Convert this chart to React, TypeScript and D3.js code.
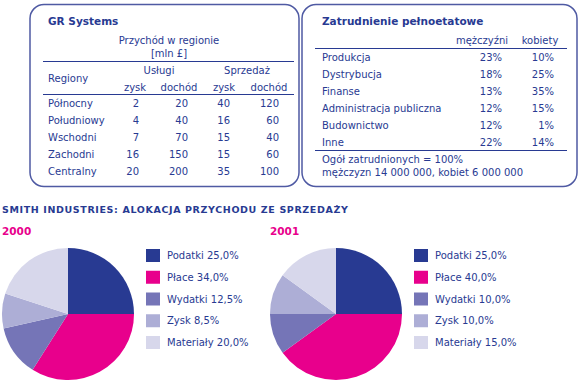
import React, { useEffect, useRef } from "react";
import * as d3 from "d3";

// left table: GR Systems
const regions = ["Północny", "Południowy", "Wschodni", "Zachodni", "Centralny"];
const uslugiZysk = [2, 4, 7, 16, 20];
const uslugiDochod = [20, 40, 70, 150, 200];
const sprzedazZysk = [40, 16, 15, 15, 35];
const sprzedazDochod = [120, 60, 40, 60, 100];

// right table: employment
const sectors = ["Produkcja", "Dystrybucja", "Finanse", "Administracja publiczna", "Budownictwo", "Inne"];
const men = [23, 18, 13, 12, 12, 22];
const women = [10, 25, 35, 15, 1, 14];

// pies
const allocLabels = ["Podatki", "Płace", "Wydatki", "Zysk", "Materiały"];
const alloc2000 = [25, 34, 12.5, 8.5, 20];
const alloc2001 = [25, 40, 10, 10, 15];
const years = ["2000", "2001"];

const BLUE = "#283a92";
const PINK = "#e8008c";
const FONT = "DejaVu Sans, Verdana, sans-serif";

export default function App() {
  const ref = useRef<SVGSVGElement>(null);

  useEffect(() => {
    const svg = d3.select(ref.current);
    svg.selectAll("*").remove();

    const txt = (g: any, x: number, y: number, s: string, anchor = "start") =>
      g.append("text").attr("x", x).attr("y", y).attr("text-anchor", anchor).text(s);

    // boxes
    svg.append("rect").attr("x", 30).attr("y", 4.5).attr("width", 269).attr("height", 182)
      .attr("rx", 14).attr("fill", "none").attr("stroke", "#4f5aa3").attr("stroke-width", 1.5);
    svg.append("rect").attr("x", 302).attr("y", 4.5).attr("width", 275).attr("height", 182)
      .attr("rx", 14).attr("fill", "none").attr("stroke", "#4f5aa3").attr("stroke-width", 1.5);

    const g1 = svg.append("g").attr("font-family", FONT).attr("font-size", 10).attr("fill", BLUE);
    txt(g1, 48, 25, "GR Systems").attr("font-weight", "bold").attr("font-size", 10.5);
    txt(g1, 169, 44, "Przychód w regionie", "middle");
    txt(g1, 169, 57, "[mln £]", "middle");
    g1.append("line").attr("x1", 43).attr("x2", 294).attr("y1", 61.5).attr("y2", 61.5).attr("stroke", BLUE);
    txt(g1, 48, 82, "Regiony");
    txt(g1, 159, 74, "Usługi", "middle");
    txt(g1, 247, 74, "Sprzedaż", "middle");
    txt(g1, 135, 91, "zysk", "middle");
    txt(g1, 179, 91, "dochód", "middle");
    txt(g1, 224, 91, "zysk", "middle");
    txt(g1, 269, 91, "dochód", "middle");
    g1.append("line").attr("x1", 43).attr("x2", 294).attr("y1", 94.5).attr("y2", 94.5).attr("stroke", BLUE);

    const yRow = d3.scaleLinear().domain([0, 4]).range([107, 175]);
    const cols = [
      { vals: uslugiZysk, x: 139 },
      { vals: uslugiDochod, x: 188 },
      { vals: sprzedazZysk, x: 230 },
      { vals: sprzedazDochod, x: 279 },
    ];
    regions.forEach((r, i) => {
      txt(g1, 48, yRow(i), r);
      cols.forEach((c) => txt(g1, c.x, yRow(i), String(c.vals[i]), "end"));
    });

    // right table
    const g2 = svg.append("g").attr("font-family", FONT).attr("font-size", 10).attr("fill", BLUE);
    txt(g2, 322, 25, "Zatrudnienie pełnoetatowe").attr("font-weight", "bold").attr("font-size", 10.5);
    txt(g2, 482, 44, "mężczyźni", "middle");
    txt(g2, 540, 44, "kobiety", "middle");
    g2.append("line").attr("x1", 315).attr("x2", 567).attr("y1", 48.5).attr("y2", 48.5).attr("stroke", BLUE);
    const yRow2 = d3.scaleLinear().domain([0, 5]).range([61, 146]);
    sectors.forEach((s, i) => {
      txt(g2, 322, yRow2(i), s);
      txt(g2, 502, yRow2(i), men[i] + "%", "end");
      txt(g2, 554, yRow2(i), women[i] + "%", "end");
    });
    g2.append("line").attr("x1", 315).attr("x2", 567).attr("y1", 150.5).attr("y2", 150.5).attr("stroke", BLUE);
    txt(g2, 322, 163, "Ogół zatrudnionych = 100%");
    txt(g2, 322, 176, "mężczyzn 14 000 000, kobiet 6 000 000");

    // bottom title
    svg.append("text").attr("x", 2).attr("y", 213).attr("font-family", FONT).attr("font-size", 9.5)
      .attr("font-weight", "bold").attr("letter-spacing", 0.62).attr("fill", BLUE)
      .text("SMITH INDUSTRIES: ALOKACJA PRZYCHODU ZE SPRZEDAŻY");

    const color = d3.scaleOrdinal<string, string>().domain(allocLabels)
      .range([BLUE, PINK, "#7575b7", "#adaed6", "#d7d7eb"]);
    const pie = d3.pie<number>().sort(null).value((d) => d);
    const arc = d3.arc<d3.PieArcDatum<number>>().innerRadius(0).outerRadius(66);
    const fmt = (v: number) => v.toFixed(1).replace(".", ",") + "%";
    const legY = d3.scaleLinear().domain([0, 4]).range([249, 336]);

    [alloc2000, alloc2001].forEach((vals, k) => {
      const x0 = k === 0 ? 2 : 270;
      svg.append("text").attr("x", x0).attr("y", 235).attr("font-family", FONT).attr("font-size", 10.5)
        .attr("font-weight", "bold").attr("fill", PINK).text(years[k]);
      const pg = svg.append("g").attr("transform", `translate(${x0 + 66},314)`);
      pg.selectAll("path").data(pie(vals)).join("path")
        .attr("d", arc as any).attr("fill", (d, i) => color(allocLabels[i]));
      const lx = x0 + 144;
      const lg = svg.append("g").attr("font-family", FONT).attr("font-size", 10).attr("fill", BLUE);
      allocLabels.forEach((l, i) => {
        lg.append("rect").attr("x", lx).attr("y", legY(i)).attr("width", 14).attr("height", 13).attr("fill", color(l));
        txt(lg, lx + 21, legY(i) + 10, `${l} ${fmt(vals[i])}`);
      });
    });
  }, []);

  return (
    <svg ref={ref} width={581} height={386}
      style={{ position: "absolute", left: 0, top: 0, background: "#fff" }} />
  );
}
